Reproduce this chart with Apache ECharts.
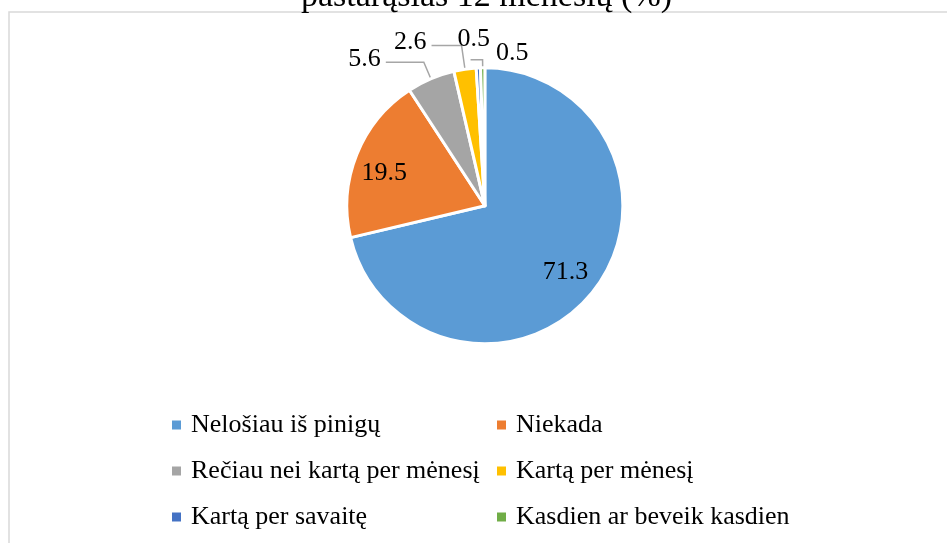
<!DOCTYPE html>
<head>
    <meta charset="utf-8">
    <title>ECharts</title>
</head>
<body style="margin:0;background:#fff">
    <div id="main" style="height:543px;width:947px"></div>
    <script src="https://cdn.jsdelivr.net/npm/echarts@6/dist/echarts.min.js"></script>
    <script type="text/javascript">

    var categories = ['Nelošiau iš pinigų', 'Niekada', 'Rečiau nei kartą per mėnesį', 'Kartą per mėnesį', 'Kartą per savaitę', 'Kasdien ar beveik kasdien'];
    var values = [71.3, 19.5, 5.6, 2.6, 0.5, 0.5];
    var colors = ['#5B9BD5', '#ED7D31', '#A5A5A5', '#FFC000', '#4472C4', '#70AD47'];
    var titleText = 'pastarąsias 12 mėnesių (%)';

    var font = '"Liberation Serif", "Times New Roman", serif';
    var myChart = echarts.init(document.getElementById('main'));

    // label tweaks: inner labels are pushed outwards, two tiny slices moved by hand
    var shiftOut = { 0: 0.5, 1: 0.55 };
    var shiftBy = { 0: [-4, -1], 1: [3, 9], 2: [0, -3], 3: [0, -3], 4: [18, -1], 5: [63, -7] };
    var lineLen = [
        null, null,
        { length: 18, length2: 38 },
        { length: 24, length2: 30 },
        { length: 28, length2: 0, show: false },
        { length: 8, length2: 12 }
    ];

    var pieData = [];
    for (var i = 0; i < values.length; i++) {
        var item = { name: categories[i], value: values[i], itemStyle: { color: colors[i] } };
        if (i < 2) {
            item.label = { position: 'inside' };
            item.labelLine = { show: false };
        } else {
            item.labelLine = lineLen[i];
        }
        pieData.push(item);
    }

    var option = {
        animation: false,
        backgroundColor: '#fff',
        title: {
            text: titleText,
            left: 296,
            top: -25,
            textStyle: { fontFamily: font, fontSize: 34, fontWeight: 'normal', color: '#000' }
        },
        graphic: [{
            type: 'rect',
            shape: { x: 9, y: 12, width: 1000, height: 600 },
            style: { fill: 'none', stroke: '#d9d9d9', lineWidth: 1.5 },
            silent: true
        }],
        legend: {
            data: categories,
            left: 167,
            top: 402,
            width: 670,
            itemWidth: 9,
            itemHeight: 9,
            itemGap: 10,
            icon: 'rect',
            itemStyle: { borderWidth: 0 },
            textStyle: {
                fontFamily: font, fontSize: 26, color: '#000',
                width: 296, lineHeight: 36, padding: [0, 0, 0, 5], overflow: 'none'
            }
        },
        series: [{
            type: 'pie',
            center: ['51.2%', '37.9%'],
            radius: 138,
            startAngle: 90,
            clockwise: true,
            avoidLabelOverlap: false,
            itemStyle: { borderColor: '#fff', borderWidth: 3 },
            label: {
                show: true,
                formatter: function (p) { return p.value.toFixed(1); },
                fontFamily: font,
                fontSize: 26,
                color: '#000'
            },
            labelLine: {
                show: true,
                lineStyle: { color: '#a6a6a6', width: 1.5 }
            },
            labelLayout: function (p) {
                var idx = p.dataIndex;
                var dx = 0, dy = 0;
                if (shiftOut[idx] != null) {
                    var cx = myChart.getWidth() * 0.512;
                    var cy = myChart.getHeight() * 0.379;
                    var lx = p.labelRect.x + p.labelRect.width / 2;
                    var ly = p.labelRect.y + p.labelRect.height / 2;
                    dx = (lx - cx) * shiftOut[idx];
                    dy = (ly - cy) * shiftOut[idx];
                }
                if (shiftBy[idx]) {
                    dx += shiftBy[idx][0];
                    dy += shiftBy[idx][1];
                }
                return { dx: dx, dy: dy };
            },
            data: pieData
        }]
    };
    myChart.setOption(option);
    </script>
</body>
